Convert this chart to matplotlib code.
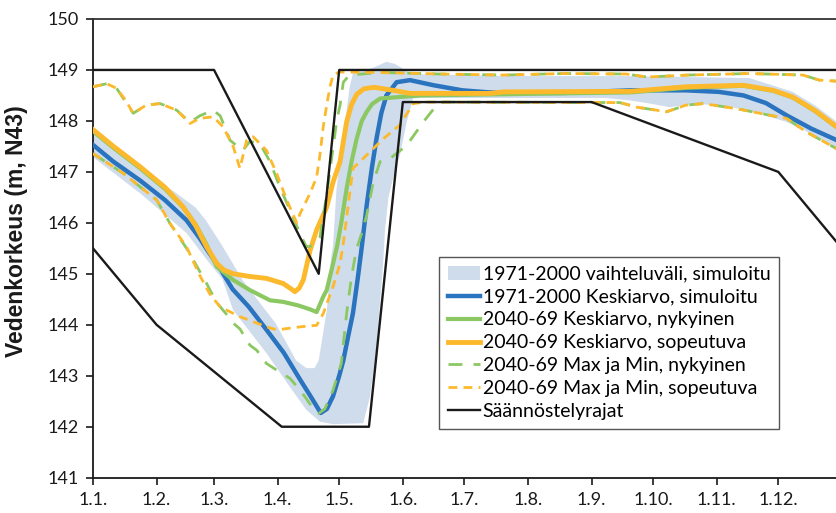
import numpy as np
import matplotlib
matplotlib.use("Agg")
import matplotlib.pyplot as plt
from matplotlib.patches import Patch
from matplotlib.lines import Line2D

plt.rcParams['font.family'] = ['Lato', 'DejaVu Sans']

# x = day of year (0 = 1.1.), y = water level (m, N43)
month_days = [0, 31, 59, 90, 120, 151, 181, 212, 243, 273, 304, 334]
month_labels = ['1.1.', '1.2.', '1.3.', '1.4.', '1.5.', '1.6.',
                '1.7.', '1.8.', '1.9.', '1.10.', '1.11.', '1.12.']

# 1971-2000 range (upper / lower edge)
band_hi_days = [0, 22, 40, 50, 55, 63, 73, 80, 89, 99, 104, 108, 110, 112, 114, 116,
                117, 118.7, 121.8, 125, 126.8, 132, 137, 143, 147, 150, 155, 200,
                260, 320, 331, 341, 352, 362.6]
band_hi = [147.78, 147.1, 146.6, 146.3, 146.05, 145.55, 144.87, 144.5, 144.03, 143.3,
           143.15, 143.15, 143.3, 143.8, 144.3, 145.3, 145.56, 146.68, 147.66, 148.64,
           148.96, 148.98, 149.05, 149.16, 149.12, 149.05, 148.92, 148.88, 148.88,
           148.84, 148.7, 148.57, 148.3, 147.98]
band_lo_days = [0, 23, 45.6, 55, 63, 68.3, 84.6, 96, 104, 110.6, 117, 131.7, 135, 138.2,
                141.4, 142.3, 144, 146.4, 149.6, 152.9, 156, 160, 250, 262, 270, 281,
                294, 310, 321.6, 338, 350, 362.6]
band_lo = [147.29, 146.58, 145.8, 145.3, 144.9, 144.29, 143.44, 142.78, 142.33, 142.1,
           142.05, 142.07, 142.59, 143.57, 145.2, 145.86, 146.5, 146.9, 147.33, 147.98,
           148.44, 148.45, 148.45, 148.4, 148.35, 148.27, 148.34, 148.28, 148.18,
           147.98, 147.75, 147.43]

# 1971-2000 mean
blue_days = [0, 10, 23, 35, 45.6, 52, 56, 62, 68, 76, 84.6, 93, 101, 106, 111, 114,
             117, 120, 122, 124.5, 126.7, 129, 131, 133.4, 136, 138.2, 140.5, 143, 148,
             154.5, 166, 180, 193, 200, 230, 262, 289, 305, 317, 328, 338, 350, 362.6]
blue_mean = [147.53, 147.2, 146.83, 146.45, 146.05, 145.7, 145.45, 145.1, 144.7, 144.35,
             143.9, 143.45, 142.92, 142.6, 142.27, 142.35, 142.6, 143.0, 143.3, 143.8,
             144.23, 144.9, 145.53, 146.35, 147.1, 147.66, 148.15, 148.5, 148.76, 148.8,
             148.7, 148.6, 148.56, 148.55, 148.55, 148.6, 148.6, 148.57, 148.5, 148.35,
             148.11, 147.85, 147.62]

# 2040-69 mean, current regulation
green_days = [0, 10, 23, 35, 44, 50, 55, 60.3, 68.3, 76.5, 86.3, 92.7, 100, 106, 109,
              112.2, 113.9, 117, 119, 121, 123.6, 126, 128.5, 131, 133.4, 136, 139.9,
              149.6, 160, 262, 289, 317, 331.5, 341, 352, 362.6]
green_mean = [147.8, 147.47, 147.07, 146.67, 146.3, 145.97, 145.6, 145.14, 144.88, 144.68,
              144.48, 144.45, 144.38, 144.3, 144.25, 144.55, 144.68, 145.2, 145.55, 146.0,
              146.67, 147.2, 147.65, 148.0, 148.18, 148.33, 148.44, 148.47, 148.5, 148.56,
              148.65, 148.69, 148.59, 148.46, 148.19, 147.87]

# 2040-69 mean, adaptive regulation
orange_days = [0, 10, 23, 35, 44, 50, 55.4, 60.4, 64, 68.5, 76, 84.6, 92.7, 96, 98.4,
               100.5, 102.5, 105.8, 109, 113.9, 117, 120.4, 123.6, 126, 128.5, 132, 137,
               146.3, 154.5, 169, 193.5, 200, 262, 289, 317, 331.5, 341, 352, 362.6]
orange_mean = [147.83, 147.5, 147.1, 146.7, 146.31, 145.95, 145.53, 145.2, 145.07, 145.0,
               144.95, 144.91, 144.81, 144.72, 144.65, 144.72, 144.88, 145.46, 145.86,
               146.31, 146.8, 147.2, 147.98, 148.32, 148.52, 148.63, 148.66, 148.6, 148.54,
               148.54, 148.54, 148.57, 148.58, 148.67, 148.7, 148.6, 148.47, 148.2, 147.88]

# 2040-69 max and min, current regulation
green_max_days = [0, 6.7, 11.5, 19.6, 26, 32.7, 40.8, 47.3, 52, 58.6, 62, 66.8, 73, 76.5,
                  81.4, 86.3, 91, 96, 100.9, 104, 107, 110.6, 114, 118.8, 120.4, 122, 125,
                  140, 170, 200, 230, 260, 270, 290, 320, 346, 354, 362.6]
green_max = [148.67, 148.73, 148.64, 148.15, 148.31, 148.34, 148.21, 147.97, 148.1, 148.21,
             148.1, 147.62, 147.42, 147.6, 147.55, 147.2, 146.71, 146.25, 145.79, 145.53,
             145.55, 145.72, 146.58, 148.01, 148.31, 148.76, 148.9, 148.95, 148.92, 148.9,
             148.93, 148.92, 148.86, 148.9, 148.93, 148.9, 148.8, 148.78]
green_min_days = [0, 14.8, 31, 37.5, 45.6, 52, 55.4, 60, 65.2, 68.4, 71.6, 76.5, 79.8,
                  84.6, 88, 92.7, 96, 100.9, 104, 107.4, 110, 113, 117, 121, 123.6, 126,
                  128.5, 131, 133.4, 136.6, 139.9, 144.7, 152.9, 161, 167.5, 170.6, 256.8,
                  265, 279.6, 289, 297.4, 313.7, 330, 338, 347.8, 362.6]
green_min = [147.36, 146.97, 146.45, 145.99, 145.5, 145.05, 144.81, 144.45, 144.2, 144.03,
             143.92, 143.6, 143.5, 143.24, 143.15, 143.03, 142.95, 142.72, 142.55, 142.35,
             142.26, 142.35, 142.72, 143.24, 144.22, 144.95, 145.5, 145.8, 146.15, 146.8,
             147.2, 147.26, 147.52, 147.98, 148.31, 148.37, 148.36, 148.27, 148.18,
             148.31, 148.34, 148.24, 148.11, 148.05, 147.78, 147.45]

# 2040-69 max and min, adaptive regulation
orange_max_days = [0, 6.7, 11.5, 16, 19.6, 26, 32.7, 40.8, 47.3, 52, 58.6, 63.5, 68.4,
                   71.6, 74.9, 78, 84.6, 89.5, 94.4, 99.3, 100.9, 105.8, 109, 110.6, 112.2,
                   113.9, 115.5, 117, 120, 140, 170, 200, 230, 260, 270, 290, 320, 346,
                   354, 362.6]
orange_max = [148.67, 148.73, 148.64, 148.4, 148.15, 148.31, 148.34, 148.21, 147.95,
              148.05, 148.08, 147.88, 147.49, 147.07, 147.62, 147.69, 147.42, 146.97,
              146.45, 146.0, 146.18, 146.58, 146.9, 147.33, 147.88, 148.31, 148.67, 148.9,
              148.96, 148.95, 148.92, 148.9, 148.93, 148.92, 148.86, 148.9, 148.93, 148.9,
              148.8, 148.78]
orange_min_days = [0, 14.8, 31, 37.5, 45.6, 52, 57, 62, 71.6, 84.6, 89.5, 101, 109, 112.2,
                   117, 120.4, 122, 125, 126.7, 133.4, 141.5, 149.6, 156, 162, 256.8, 265,
                   279.6, 289, 297.4, 313.7, 330, 338, 347.8, 362.6]
orange_min = [147.36, 146.97, 146.45, 145.99, 145.53, 144.97, 144.6, 144.35, 144.16,
              143.96, 143.9, 143.96, 143.99, 144.22, 144.75, 145.2, 145.6, 146.54, 147.07,
              147.33, 147.65, 147.92, 148.34, 148.37, 148.36, 148.27, 148.18, 148.31,
              148.34, 148.24, 148.11, 148.05, 147.78, 147.45]

# regulation limits
reg_hi_days = [0, 59, 110, 120, 365]
reg_hi = [149, 149, 145, 149, 149]
reg_lo_days = [0, 31, 92, 134.5, 151, 243, 334, 365]
reg_lo = [145.5, 144, 142, 142, 148.37, 148.37, 147, 145.5]

labels = ['1971-2000 vaihteluväli, simuloitu',
          '1971-2000 Keskiarvo, simuloitu',
          '2040-69 Keskiarvo, nykyinen',
          '2040-69 Keskiarvo, sopeutuva',
          '2040-69 Max ja Min, nykyinen',
          '2040-69 Max ja Min, sopeutuva',
          'Säännöstelyrajat']

c_band = '#cfdcec'
c_blue = '#2a73be'
c_green = '#8cc862'
c_orange = '#fdb92c'
c_black = '#1a1a1a'
green_dash = (0, (5, 4))
orange_dash = (0, (3.2, 2.2))

fig = plt.figure(figsize=(8.37, 5.13), dpi=100)
ax = fig.add_axes([0.1111, 0.0688, 0.8889, 0.8942])

ax.fill(np.r_[band_hi_days, band_lo_days[::-1]], np.r_[band_hi, band_lo[::-1]],
        color=c_band, lw=0, zorder=1)
ax.plot(blue_days, blue_mean, color=c_blue, lw=3.2, zorder=3)
ax.plot(green_days, green_mean, color=c_green, lw=3.0, zorder=4)
ax.plot(orange_days, orange_mean, color=c_orange, lw=3.5, zorder=5)
ax.plot(green_max_days, green_max, color=c_green, lw=2.0, ls=green_dash, zorder=6)
ax.plot(green_min_days, green_min, color=c_green, lw=2.0, ls=green_dash, zorder=6)
ax.plot(orange_max_days, orange_max, color=c_orange, lw=2.0, ls=orange_dash, zorder=7)
ax.plot(orange_min_days, orange_min, color=c_orange, lw=2.0, ls=orange_dash, zorder=7)
ax.plot(reg_hi_days, reg_hi, color=c_black, lw=1.7, zorder=8)
ax.plot(reg_lo_days, reg_lo, color=c_black, lw=1.7, zorder=8)

ax.set_xlim(0, 362.6)
ax.set_ylim(141, 150)
ax.set_yticks(range(141, 151))
ax.set_xticks(month_days)
ax.set_xticklabels(month_labels)
ax.tick_params(labelsize=13, length=5, width=1.2, pad=5, colors='#1a1a1a')
ax.spines['right'].set_visible(False)
ax.spines['top'].set_color('#333333')
for s in ['left', 'bottom', 'top']:
    ax.spines[s].set_linewidth(1.3)
ax.spines['left'].set_color('#1a1a1a')
ax.spines['bottom'].set_color('#1a1a1a')

ax.set_ylabel('Vedenkorkeus (m, N43)', fontsize=16.5, fontweight='bold',
              family=['Liberation Sans', 'DejaVu Sans'], color='#1a1a1a')
ax.yaxis.set_label_coords(-0.087, 0.538)

handles = [Patch(facecolor=c_band, edgecolor='none'),
           Line2D([], [], color=c_blue, lw=3.2),
           Line2D([], [], color=c_green, lw=3.0),
           Line2D([], [], color=c_orange, lw=3.5),
           Line2D([], [], color=c_green, lw=2.0, ls=green_dash),
           Line2D([], [], color=c_orange, lw=2.0, ls=orange_dash),
           Line2D([], [], color=c_black, lw=1.7)]
leg = ax.legend(handles, labels, loc='upper left', bbox_to_anchor=(0.465, 0.481),
                borderaxespad=0, fontsize=14, frameon=True, fancybox=False,
                framealpha=1, edgecolor='#555555', handlelength=1.65,
                handletextpad=0.15, labelspacing=0.3, borderpad=0.45)
leg.get_frame().set_linewidth(1.0)
leg.set_zorder(10)

fig.savefig('out.png', dpi=100)
